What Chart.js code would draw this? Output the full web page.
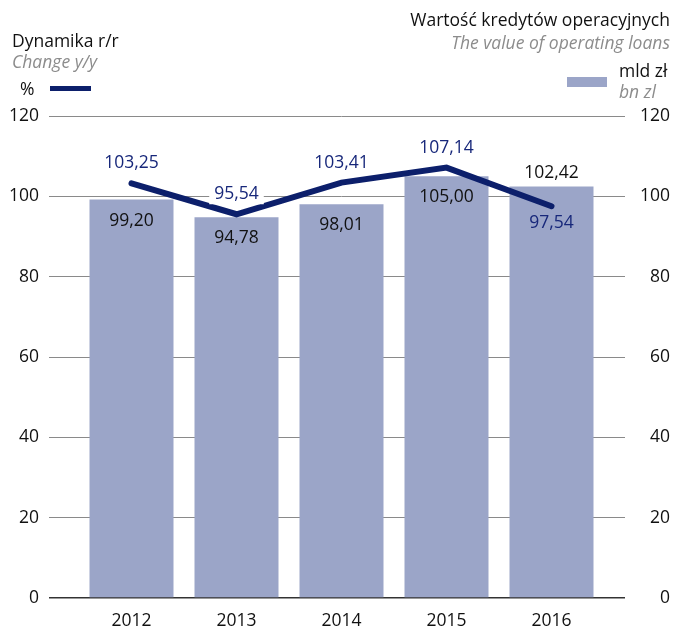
<!DOCTYPE html>
<html>
<head>
<meta charset="utf-8">
<script src="https://cdn.jsdelivr.net/npm/chart.js@4.4.1/dist/chart.umd.min.js"></script>
<style>
  html, body { margin: 0; padding: 0; background: #fff; }
  #wrap { position: relative; width: 674px; height: 632px; font-family: "Open Sans", sans-serif; }
  #c { position: absolute; left: 0; top: 0; }
  .t { position: absolute; white-space: nowrap; font-size: 17.5px; line-height: 20px; color: #111; }
  .g { color: #8c8c8c; font-style: italic; }
  .r { text-align: right; }
  #lineKey { position: absolute; left: 50px; top: 86px; width: 41px; height: 5px; background: #0c1f6b; }
  #barKey { position: absolute; left: 567px; top: 77px; width: 40px; height: 10px; background: #9ba5c8; }
</style>
</head>
<body>
<div id="wrap">
  <canvas id="c" width="674" height="632"></canvas>
  <div class="t" style="left:12px; top:30px;">Dynamika r/r</div>
  <div class="t g" style="left:12px; top:51px;">Change y/y</div>
  <div class="t" style="left:20px; top:78px;">%</div>
  <div id="lineKey"></div>
  <div class="t r" style="right:4px; top:9px;">Wartość kredytów operacyjnych</div>
  <div class="t g r" style="right:4px; top:32px;">The value of operating loans</div>
  <div class="t" style="left:619px; top:60px;">mld zł</div>
  <div class="t g" style="left:619px; top:81px;">bn zl</div>
  <div id="barKey"></div>
</div>
<script>
// ---- data ----
const years = ['2012', '2013', '2014', '2015', '2016'];
const loanValues = [99.20, 94.78, 98.01, 105.00, 102.42];   // mld zł (right axis)
const changeYoY = [103.25, 95.54, 103.41, 107.14, 97.54];   // % (left axis)
const axisTicks = [0, 20, 40, 60, 80, 100, 120];

// ---- label placement (kept separate from data) ----
const barLabelPlace = ['in', 'in', 'in', 'in', 'above'];
const lineLabelPlace = ['above', 'above', 'above', 'above', 'below'];

const NAVY = '#0c1f6b';
const BAR = '#9ba5c8';
const FONT = '"Open Sans", sans-serif';

const fmt = v => v.toFixed(2).replace('.', ',');

const labelPlugin = {
  id: 'valueLabels',
  afterDatasetsDraw(chart) {
    const ctx = chart.ctx;
    ctx.save();
    ctx.font = '17.5px ' + FONT;
    ctx.textAlign = 'center';
    ctx.textBaseline = 'middle';
    // bar labels
    const bm = chart.getDatasetMeta(0);
    bm.data.forEach((el, i) => {
      const y = barLabelPlace[i] === 'in' ? el.y + 21 : el.y - 14;
      ctx.fillStyle = '#111';
      ctx.fillText(fmt(loanValues[i]), el.x, y);
    });
    // line labels
    const lm = chart.getDatasetMeta(1);
    lm.data.forEach((el, i) => {
      const txt = fmt(changeYoY[i]);
      let y;
      if (lineLabelPlace[i] === 'above') {
        y = el.y - 20;
        const w = ctx.measureText(txt).width + 10;
        ctx.fillStyle = '#fff';
        ctx.fillRect(el.x - w / 2, y - 10, w, 20);
      } else {
        y = el.y + 17;
      }
      ctx.fillStyle = '#17277a';
      ctx.fillText(txt, el.x, y);
    });
    ctx.restore();
  }
};

const gridColor = c => (c.tick && c.tick.value === 0) ? '#333' : '#8a8a8a';
const gridWidth = c => (c.tick && c.tick.value === 0) ? 1.5 : 1;

new Chart(document.getElementById('c'), {
  type: 'bar',
  data: {
    labels: years,
    datasets: [
      {
        type: 'bar',
        label: 'Wartość kredytów operacyjnych (mld zł)',
        data: loanValues,
        yAxisID: 'yR',
        backgroundColor: BAR,
        borderWidth: 0,
        categoryPercentage: 0.8,
        barPercentage: 1.0,
        order: 2
      },
      {
        type: 'line',
        label: 'Dynamika r/r (%)',
        data: changeYoY,
        yAxisID: 'yL',
        borderColor: NAVY,
        backgroundColor: NAVY,
        borderWidth: 6,
        borderCapStyle: 'round',
        borderJoinStyle: 'miter',
        pointRadius: 0,
        tension: 0,
        order: 1
      }
    ]
  },
  options: {
    responsive: false,
    animation: false,
    events: [],
    layout: { padding: { top: 116, bottom: 0, left: 0, right: 4 } },
    plugins: { legend: { display: false }, tooltip: { enabled: false } },
    scales: {
      x: {
        grid: { display: false, drawTicks: false },
        border: { display: false },
        afterFit: s => { s.height = 34; },
        ticks: { color: '#111', font: { family: FONT, size: 17.5 }, padding: 13 }
      },
      yL: {
        position: 'left',
        min: 0, max: 120,
        afterBuildTicks: s => { s.ticks = axisTicks.map(v => ({ value: v })); },
        afterFit: s => { s.width = 79; },
        grid: { color: gridColor, lineWidth: gridWidth, tickLength: 30, drawTicks: true },
        border: { display: false },
        ticks: { color: '#111', font: { family: FONT, size: 17.5 }, padding: 10 }
      },
      yR: {
        position: 'right',
        min: 0, max: 120,
        afterBuildTicks: s => { s.ticks = axisTicks.map(v => ({ value: v })); },
        afterFit: s => { s.width = 66; },
        grid: { drawOnChartArea: false, color: gridColor, lineWidth: gridWidth, tickLength: 21, drawTicks: true },
        border: { display: false },
        ticks: { color: '#111', font: { family: FONT, size: 17.5 }, padding: 10, crossAlign: 'far' }
      }
    }
  },
  plugins: [labelPlugin]
});
</script>
</body>
</html>
